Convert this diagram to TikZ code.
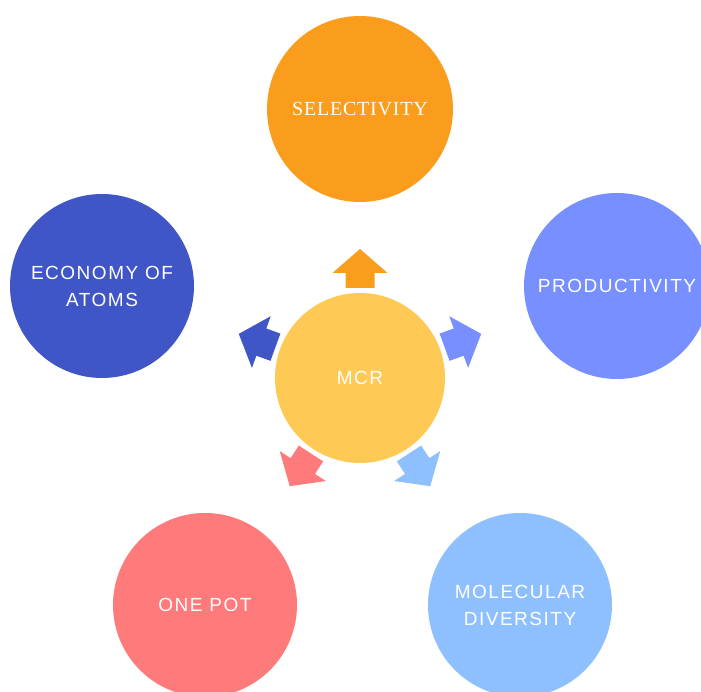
\documentclass[tikz,border=0pt]{standalone}
\usepackage{fontspec}
\setmainfont{Liberation Sans}
\newfontfamily\lblfont[LetterSpace=8]{Liberation Sans}
\newfontfamily\selfont[LetterSpace=4]{Liberation Serif}

\definecolor{selcol}{HTML}{FA9D1C}
\definecolor{ecocol}{HTML}{4055C6}
\definecolor{procol}{HTML}{7890FF}
\definecolor{mcrcol}{HTML}{FFC955}
\definecolor{potcol}{HTML}{FF7A7A}
\definecolor{molcol}{HTML}{8EBFFF}

\tikzset{
  bubble/.style={circle, inner sep=0pt, minimum size=#1, text=white,
    align=center, font=\lblfont\fontsize{19}{27}\selectfont},
  blockarrow/.style={fill=#1},
}

% block arrow leaving the hub #1 in direction #2, filled with #3
\newcommand\hubarrow[3]{%
  \fill[blockarrow=#3, shift={(#1.center)}, rotate=#2]
    (90,-14.5) -- (105,-14.5) -- (105,-27.5) -- (129,0)
    -- (105,27.5) -- (105,14.5) -- (90,14.5) -- cycle;
}

\begin{document}
\begin{tikzpicture}[x=1pt,y=1pt]
  \useasboundingbox (0,0) rectangle (701,692);
  \clip (0,0) rectangle (701,692);

  % hub
  \node[bubble=170pt, fill=mcrcol] (mcr) at (360,314) {MCR};

  % satellites
  \node[bubble=186pt, fill=selcol, font=\selfont\fontsize{20}{24}\selectfont]
    (sel) at (360,583) {SELECTIVITY};
  \node[bubble=184pt, fill=ecocol] (eco) at (102,406) {ECONOMY OF\\ATOMS};
  \node[bubble=186pt, fill=procol] (pro) at (617,406) {PRODUCTIVITY};
  \node[bubble=184pt, fill=potcol] (pot) at (205,87) {ONE POT};
  \node[bubble=184pt, fill=molcol] (mol) at (520,87) {MOLECULAR\\DIVERSITY};

  % arrows from the hub towards each satellite
  \hubarrow{mcr}{90}{selcol}
  \hubarrow{mcr}{20}{procol}
  \hubarrow{mcr}{160}{ecocol}
  \hubarrow{mcr}{237}{potcol}
  \hubarrow{mcr}{303}{molcol}
\end{tikzpicture}
\end{document}
